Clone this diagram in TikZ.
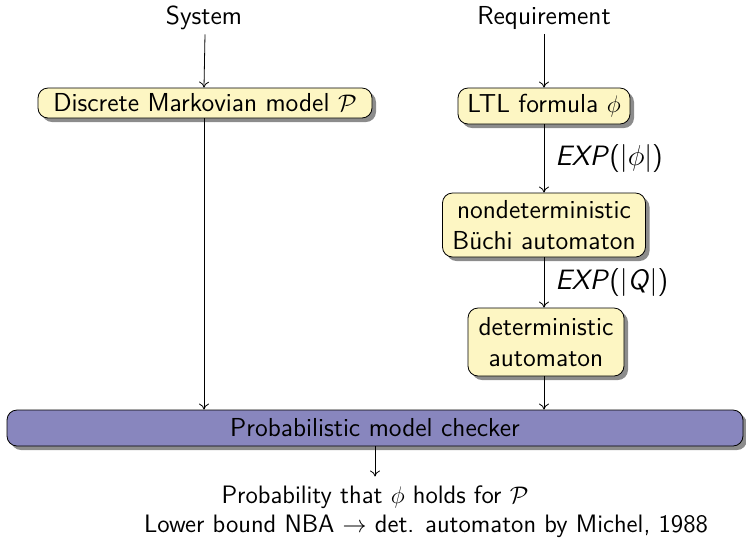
\documentclass[tikz,border=0pt]{standalone}
\usetikzlibrary{shadows,arrows.meta}
\renewcommand{\familydefault}{\sfdefault}
\definecolor{boxyellow}{HTML}{FDF6C3}
\definecolor{boxpurple}{HTML}{8886BE}
\tikzset{
  flowbox/.style={draw=black, rounded corners=5pt, fill=boxyellow, align=center,
    inner sep=0pt, font=\fontsize{13}{15.5}\selectfont,
    drop shadow={shadow xshift=2pt, shadow yshift=-2pt, fill=black!45, opacity=1}},
  checkbox/.style={flowbox, fill=boxpurple},
  flow/.style={-{To[length=3pt,width=5pt]}, line width=0.4pt},
  edgelbl/.style={right, inner sep=0pt, xshift=5.5pt, font=\fontsize{14}{17}\selectfont},
  toplbl/.style={font=\fontsize{13}{15.5}\selectfont, inner sep=2pt},
  botlbl/.style={font=\fontsize{12.6}{15}\selectfont}
}
\begin{document}
\begin{tikzpicture}[x=0.5pt,y=-0.5pt]
\useasboundingbox (0,0) rectangle (746,548);
\node[toplbl] (sys) at (204,18) {System};
\node[toplbl] (req) at (544,18) {Requirement};
\node[flowbox, minimum width=167pt, minimum height=15pt] (mm) at (205,103) {Discrete Markovian model $\mathcal{P}$};
\node[flowbox, minimum width=86pt, minimum height=18pt] (ltl) at (544,106) {LTL formula $\phi$};
\node[flowbox, minimum width=101.5pt, minimum height=32pt] (nba) at (544,225) {nondeterministic\\B\"uchi automaton};
\node[flowbox, minimum width=78pt, minimum height=34pt] (det) at (546,342) {deterministic\\automaton};
\node[checkbox, minimum width=368pt, minimum height=18pt] (pmc) at (375,428) {Probabilistic model checker};
\node[botlbl] (res) at (375,497) {Probability that $\phi$ holds for $\mathcal{P}$};
\node[botlbl] (note) at (426,526) {Lower bound NBA $\rightarrow$ det. automaton by Michel, 1988};
\draw[flow] (sys.south -| mm.north) -- (mm.north -| sys.south);
\draw[flow] (req.south) -- (ltl.north);
\draw[flow] (mm.south -| sys.south) -- (pmc.north -| sys.south);
\draw[flow] (ltl.south) -- node[edgelbl] {\textit{EXP}(|$\phi$|)} (nba.north);
\draw[flow] (nba.south) -- node[edgelbl] {\textit{EXP}(|\textit{Q}|)} (nba.south |- det.north);
\draw[flow] (det.south -| nba.south) -- (pmc.north -| nba.south);
\draw[flow] (pmc.south -| res.north) -- ([yshift=1pt]res.north);
\end{tikzpicture}
\end{document}
